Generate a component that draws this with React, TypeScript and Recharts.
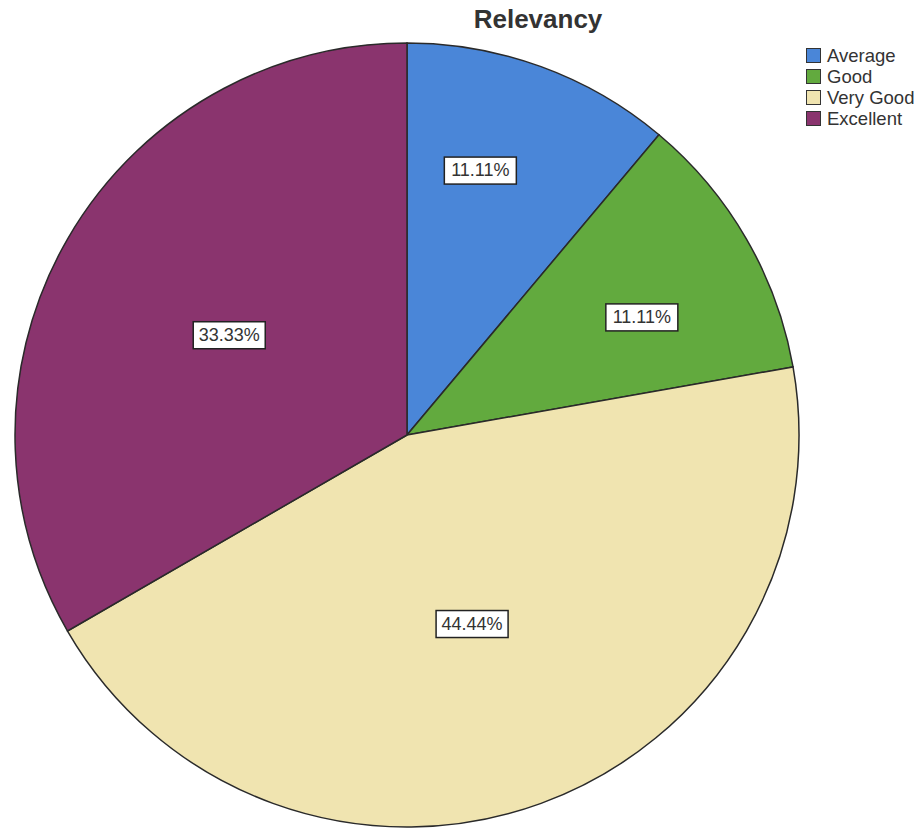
import React from "react";
import { PieChart, Pie, Cell, Legend } from "recharts";

const categories = ["Average", "Good", "Very Good", "Excellent"];
const counts = [2, 2, 8, 6];
const colors = ["#4a86d8", "#62aa3e", "#f0e4b0", "#8a346e"];
const labelRadiusRatio = [0.7, 0.67, 0.51, 0.52];
const labelAngleShift = [4.5, -3.4, -1, 0.7];

const data = categories.map((name, i) => ({ name, value: counts[i] }));
const RAD = Math.PI / 180;
const FONT = "'Liberation Sans', Arial, sans-serif";

const renderLabel = (props: any) => {
  const { cx, cy, midAngle, outerRadius, index, percent } = props;
  const r = outerRadius * labelRadiusRatio[index];
  const a = (midAngle + labelAngleShift[index]) * RAD;
  const x = cx + r * Math.cos(-a);
  const y = cy + r * Math.sin(-a);
  const txt = (percent * 100).toFixed(2) + "%";
  return (
    <g>
      <rect x={x - 36} y={y - 13.5} width={72} height={27} fill="#fff" stroke="#222" strokeWidth={1.5} />
      <text x={x} y={y + 1} textAnchor="middle" dominantBaseline="middle" fontSize={18} fontFamily={FONT} fill="#333">
        {txt}
      </text>
    </g>
  );
};

const renderLegend = () => (
  <div style={{ fontFamily: FONT, fontSize: 18.5, color: "#333", lineHeight: "21px" }}>
    {categories.map((c, i) => (
      <div key={c} style={{ display: "flex", alignItems: "center", height: 21 }}>
        <span
          style={{
            display: "inline-block",
            width: 13,
            height: 13,
            background: colors[i],
            border: "1px solid #333",
            marginRight: 6,
          }}
        />
        <span>{c}</span>
      </div>
    ))}
  </div>
);

export default function App() {
  return (
    <div style={{ position: "absolute", left: 0, top: 0, width: 924, height: 830, background: "#fff" }}>
      <div
        style={{
          position: "absolute",
          left: 438,
          width: 200,
          top: 4,
          textAlign: "center",
          fontFamily: FONT,
          fontWeight: "bold",
          fontSize: 26,
          color: "#333",
        }}
      >
        Relevancy
      </div>
      <PieChart width={924} height={830} margin={{ top: 0, right: 0, bottom: 0, left: 0 }}>
        <Pie
          data={data}
          dataKey="value"
          nameKey="name"
          cx={407}
          cy={435}
          outerRadius={392}
          startAngle={90}
          endAngle={-270}
          stroke="#2a2a2a"
          strokeWidth={1.5}
          label={renderLabel}
          labelLine={false}
          isAnimationActive={false}
        >
          {data.map((d, i) => (
            <Cell key={d.name} fill={colors[i]} />
          ))}
        </Pie>
        <Legend
          content={renderLegend}
          layout="vertical"
          align="right"
          verticalAlign="top"
          wrapperStyle={{ position: "absolute", top: 45, left: 806, width: 118 }}
        />
      </PieChart>
    </div>
  );
}
